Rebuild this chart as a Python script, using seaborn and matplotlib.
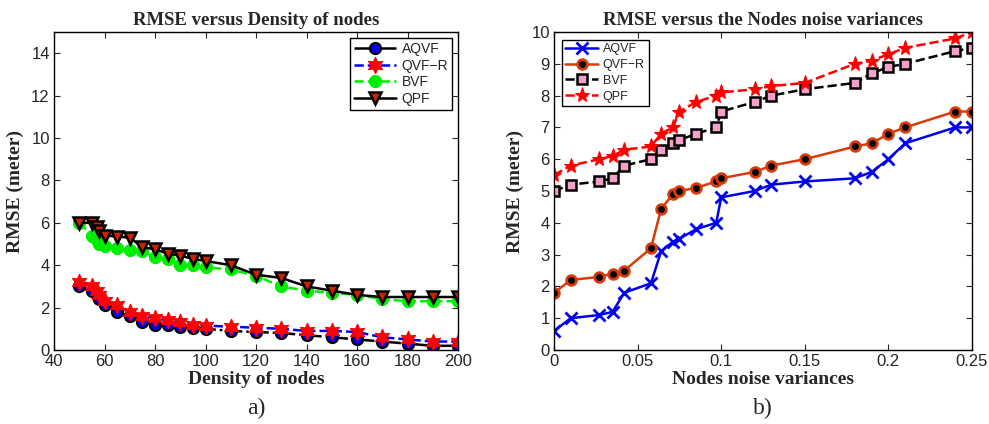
import matplotlib
matplotlib.use("Agg")
import matplotlib.pyplot as plt
import seaborn as sns

# --- panel a) RMSE versus density of nodes
density = [50, 55, 57, 58, 60, 65, 70, 75, 80, 85, 90, 95, 100,
           110, 120, 130, 140, 150, 160, 170, 180, 190, 200]
a_aqvf = [3.0, 2.8, 2.6, 2.4, 2.1, 1.8, 1.6, 1.3, 1.2, 1.2, 1.1, 1.05, 1.0,
          0.9, 0.85, 0.8, 0.7, 0.6, 0.5, 0.4, 0.3, 0.2, 0.2]
a_qvfr = [3.2, 3.0, 2.8, 2.6, 2.3, 2.1, 1.8, 1.6, 1.5, 1.4, 1.3, 1.2, 1.15,
          1.1, 1.05, 1.0, 0.9, 0.9, 0.85, 0.6, 0.5, 0.4, 0.4]
a_bvf = [6.0, 5.4, 5.2, 5.0, 4.9, 4.8, 4.7, 4.65, 4.4, 4.3, 4.0, 4.0, 3.9,
         3.8, 3.5, 3.0, 2.8, 2.7, 2.6, 2.4, 2.3, 2.3, 2.3]
a_qpf = [6.0, 6.0, 5.8, 5.6, 5.4, 5.35, 5.3, 4.85, 4.75, 4.55, 4.45, 4.3, 4.2,
         4.0, 3.55, 3.4, 3.0, 2.8, 2.6, 2.5, 2.5, 2.5, 2.5]

# --- panel b) RMSE versus nodes noise variances
variance = [0, 0.01, 0.027, 0.035, 0.042, 0.058, 0.064, 0.071, 0.075, 0.085,
            0.097, 0.1, 0.12, 0.13, 0.15, 0.18, 0.19, 0.2, 0.21, 0.24, 0.25]
b_aqvf = [0.6, 1.0, 1.1, 1.2, 1.8, 2.1, 3.1, 3.4, 3.5, 3.8, 4.0, 4.8, 5.0,
          5.2, 5.3, 5.4, 5.6, 6.0, 6.5, 7.0, 7.0]
b_qvfr = [1.8, 2.2, 2.3, 2.4, 2.5, 3.2, 4.43, 4.9, 5.0, 5.1, 5.3, 5.4, 5.6,
          5.8, 6.0, 6.4, 6.5, 6.8, 7.0, 7.5, 7.5]
b_bvf = [5.0, 5.2, 5.3, 5.4, 5.8, 6.0, 6.3, 6.5, 6.6, 6.8, 7.0, 7.5, 7.8,
         8.0, 8.2, 8.4, 8.7, 8.9, 9.0, 9.4, 9.5]
b_qpf = [5.5, 5.8, 6.0, 6.1, 6.3, 6.4, 6.8, 7.0, 7.5, 7.8, 8.0, 8.1, 8.2,
         8.3, 8.4, 9.0, 9.1, 9.3, 9.5, 9.8, 10.0]

sns.set_style("ticks")
plt.rcParams['font.family'] = ['Liberation Sans', 'DejaVu Sans']
plt.rcParams['xtick.direction'] = 'in'
plt.rcParams['ytick.direction'] = 'in'

serif = ['Liberation Serif', 'DejaVu Serif']

fig = plt.figure(figsize=(9.89, 4.24), dpi=100)
ax1 = fig.add_axes([0.0546, 0.1745, 0.4085, 0.75])
ax2 = fig.add_axes([0.5602, 0.1745, 0.4226, 0.75])

# left panel
sns.lineplot(x=density, y=a_aqvf, ax=ax1, color='black', linestyle='-.', lw=1.8,
             marker='o', markersize=8, markerfacecolor='#0000ee',
             markeredgecolor='black', markeredgewidth=1.5, label='AQVF')
sns.lineplot(x=density, y=a_qvfr, ax=ax1, color='blue', linestyle='--', lw=1.8,
             marker=(6, 1, 0), markersize=12, markerfacecolor='red',
             markeredgecolor='red', label='QVF\u2212R')
sns.lineplot(x=density, y=a_bvf, ax=ax1, color='#00ee00', linestyle='--', lw=1.8,
             marker=(8, 2, 0), markersize=9, markeredgewidth=3,
             markerfacecolor='#00ee00', markeredgecolor='#00ee00', label='BVF')
sns.lineplot(x=density, y=a_qpf, ax=ax1, color='black', linestyle='-', lw=1.8,
             marker='v', markersize=9, markerfacecolor='#cc2200',
             markeredgecolor='black', markeredgewidth=1.8, label='QPF')
ax1.set_xlim(40, 200)
ax1.set_ylim(0, 15)
ax1.set_xticks(range(40, 201, 20))
ax1.set_yticks(range(0, 15, 2))
ax1.set_title('RMSE versus Density of nodes', family=serif, fontweight='bold',
              fontsize=13.5, pad=5)
ax1.set_xlabel('Density of nodes', family=serif, fontweight='bold', fontsize=14,
               labelpad=1)
ax1.set_ylabel('RMSE (meter)', family=serif, fontweight='bold', fontsize=14,
               labelpad=5)
ax1.legend(loc='upper right', fontsize=10, frameon=True, fancybox=False,
           edgecolor='black', framealpha=1, handlelength=3.0,
           borderaxespad=0.4, labelspacing=0.2, handletextpad=0.4,
           borderpad=0.3)
ax1.text(0.5, -0.15, 'a)', transform=ax1.transAxes, ha='center', va='top',
         family=serif, fontsize=17)

# right panel
sns.lineplot(x=variance, y=b_aqvf, ax=ax2, color='#0000ee', linestyle='-', lw=1.8,
             marker='x', markersize=8, markeredgewidth=2,
             markeredgecolor='#0000ee', label='AQVF')
sns.lineplot(x=variance, y=b_qvfr, ax=ax2, color='#d93a0a', linestyle='-', lw=1.8,
             marker='o', markersize=7, markerfacecolor='black',
             markeredgecolor='#d93a0a', markeredgewidth=2, label='QVF\u2212R')
sns.lineplot(x=variance, y=b_bvf, ax=ax2, color='black', linestyle='--', lw=1.8,
             marker='s', markersize=7, markerfacecolor='#f4a0c8',
             markeredgecolor='black', markeredgewidth=1.8, label='BVF')
sns.lineplot(x=variance, y=b_qpf, ax=ax2, color='#ff0000', linestyle='--', lw=1.8,
             marker='*', markersize=11, markerfacecolor='#ff0000',
             markeredgecolor='#ff0000', label='QPF')
ax2.set_xlim(0, 0.25)
ax2.set_ylim(0, 10)
ax2.set_xticks([0, 0.05, 0.1, 0.15, 0.2, 0.25])
ax2.set_xticklabels(['0', '0.05', '0.1', '0.15', '0.2', '0.25'])
ax2.set_yticks(range(0, 11))
ax2.set_title('RMSE versus the Nodes noise variances', family=serif,
              fontweight='bold', fontsize=13.5, pad=5)
ax2.set_xlabel('Nodes noise variances', family=serif, fontweight='bold',
               fontsize=14, labelpad=1)
ax2.set_ylabel('RMSE (meter)', family=serif, fontweight='bold', fontsize=14,
               labelpad=5)
ax2.legend(loc='upper left', fontsize=9, frameon=True, fancybox=False,
           edgecolor='black', framealpha=1, handlelength=2.6,
           borderaxespad=0.6, labelspacing=0.3, handletextpad=0.4,
           borderpad=0.3)
ax2.text(0.5, -0.15, 'b)', transform=ax2.transAxes, ha='center', va='top',
         family=serif, fontsize=17)

for ax in (ax1, ax2):
    ax.tick_params(top=True, right=True, labelsize=12, length=4, width=0.8,
                   pad=3)
    for s in ax.spines.values():
        s.set_linewidth(1.0)
        s.set_color('black')
    ax.get_legend().get_frame().set_linewidth(1.0)

fig.savefig('out.png', dpi=100)
